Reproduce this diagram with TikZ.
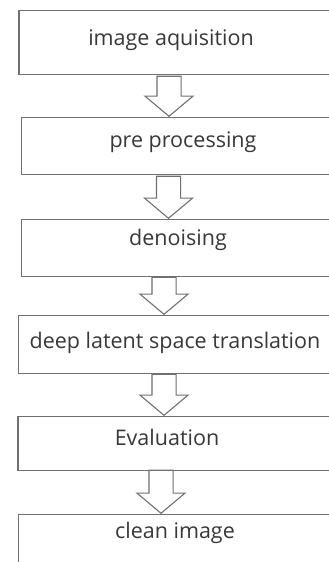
\documentclass[tikz,border=0pt]{standalone}
\usepackage{fontspec}
\setmainfont{Open Sans}
\usetikzlibrary{shapes.arrows}
\usetikzlibrary{positioning}
\definecolor{boxline}{HTML}{707070}
\definecolor{boxtext}{HTML}{383838}
\tikzset{
    stage/.style = {rectangle, draw=boxline, line width=1.2pt, anchor=north west, minimum width=360pt, inner sep=0pt},
    stagetext/.style = {anchor=base, inner sep=0pt, text=boxtext, font=\fontsize{21.5}{24}\selectfont},
    flow/.style = {single arrow, draw=boxline, fill=white, line width=1.1pt, shape border rotate=270, anchor=tip, inner sep=11.5pt,
                   single arrow head extend=12pt, single arrow tip angle=100},
}

\begin{document}
\begin{tikzpicture}[x=1pt,y=-1pt]
\useasboundingbox (0,0) rectangle (329,562);
\clip (0,0) rectangle (329,562);
% stages
\node[stage, minimum height=64pt] at (18.3, 10) (acq) {};
\node[stage, minimum height=57pt] at (20.5, 117) (pre) {};
\node[stage, minimum height=57pt] at (21, 219) (den) {};
\node[stage, minimum height=58pt] at (17.7, 315) (dls) {};
\node[stage, minimum height=54pt] at (17.3, 416) (eva) {};
\node[stage, minimum height=80pt] at (17.7, 514) (cln) {};
%
\node[stagetext] at (171, 45) (acqt) {image aquisition};
\node[stagetext] at (183, 147) (pret) {pre processing};
\node[stagetext] at (178, 245) (dent) {denoising};
\node[stagetext] at (175, 348) (dlst) {deep latent space translation};
\node[stagetext] at (167, 445) (evat) {Evaluation};
\node[stagetext] at (175, 538) (clnt) {clean image};
% arrows between stages
\node[flow, minimum height=40pt] at (pre.north -| 169,0) (a1) {};
\node[flow, minimum height=42pt] at (den.north -| 168.5,0) (a2) {};
\node[flow, minimum height=37pt] at (dls.north -| 164,0) (a3) {};
\node[flow, minimum height=41pt] at (eva.north -| 164,0) (a4) {};
\node[flow, minimum height=43pt] at (cln.north -| 161,0) (a5) {};
\end{tikzpicture}
\end{document}
